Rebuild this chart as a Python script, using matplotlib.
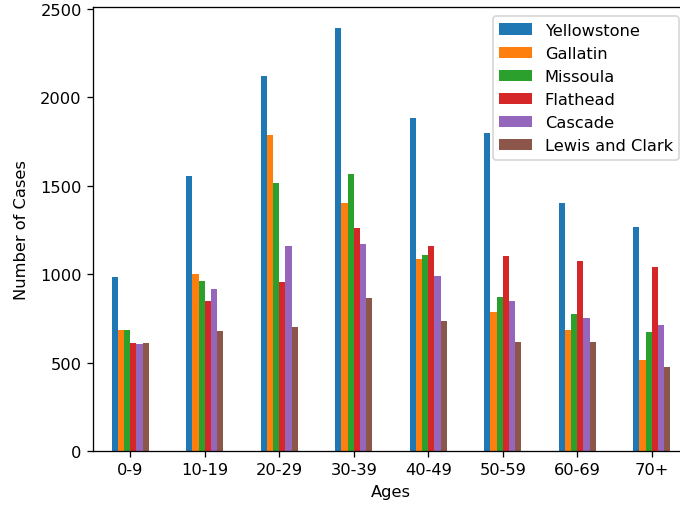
import matplotlib
matplotlib.use("Agg")
import matplotlib.pyplot as plt
import numpy as np

ages = ["0-9", "10-19", "20-29", "30-39", "40-49", "50-59", "60-69", "70+"]
yellowstone = [986, 1555, 2121, 2393, 1883, 1795, 1401, 1265]
gallatin = [686, 999, 1787, 1401, 1088, 788, 686, 516]
missoula = [686, 963, 1516, 1563, 1107, 869, 775, 673]
flathead = [611, 848, 958, 1263, 1161, 1101, 1073, 1041]
cascade = [603, 916, 1161, 1169, 992, 848, 754, 713]
lewis_clark = [611, 679, 700, 864, 734, 618, 618, 475]

series = [("Yellowstone", yellowstone), ("Gallatin", gallatin), ("Missoula", missoula),
          ("Flathead", flathead), ("Cascade", cascade), ("Lewis and Clark", lewis_clark)]
colors = ["#1f77b4", "#ff7f0e", "#2ca02c", "#d62728", "#9467bd", "#8c564b"]

DPI = 117
fig = plt.figure(figsize=(680 / DPI, 508 / DPI), dpi=DPI)
ax = fig.add_axes([93/680, 56/508, 596/680, 444.5/508])

x = np.arange(len(ages))
total = 0.5
w = total / len(series)
for i, ((name, vals), c) in enumerate(zip(series, colors)):
    ax.bar(x + (i - (len(series) - 1) / 2) * w, vals, width=w, color=c, label=name)

ax.set_xlim(-0.5, len(ages) - 0.5)
ax.set_xticks(x)
ax.set_xticklabels(ages, rotation=0)
ax.set_xlabel("Ages")
ax.set_ylabel("Number of Cases", labelpad=7)
ax.legend(loc="upper right", borderaxespad=0.6)

fig.savefig("out.png", dpi=DPI)
